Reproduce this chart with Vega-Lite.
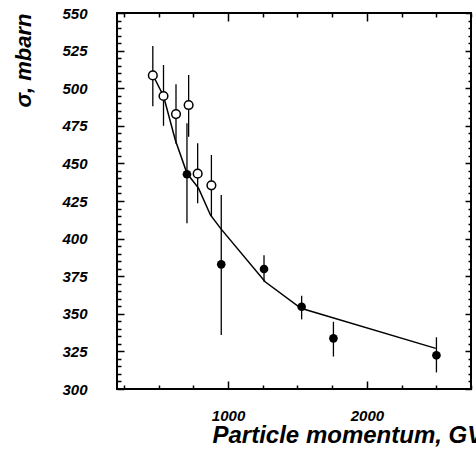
{
  "$schema": "https://vega.github.io/schema/vega-lite/v6.json",
  "autosize": {"type": "none"},
  "padding": {"left": 117, "top": 13, "right": 5, "bottom": 74},
  "width": 354,
  "height": 376,
  "background": "white",
  "config": {
    "view": {"stroke": "black", "strokeWidth": 2},
    "axis": {
      "grid": false,
      "domain": false,
      "tickColor": "black",
      "tickWidth": 1.5,
      "labelColor": "black",
      "labelFont": "Liberation Sans",
      "labelFontStyle": "italic",
      "labelFontWeight": "bold",
      "labelFontSize": 15,
      "titleColor": "black",
      "titleFont": "Liberation Sans",
      "titleFontStyle": "italic",
      "titleFontWeight": "bold",
      "titleFontSize": 22
    }
  },
  "datasets": {
    "pts": [
      {"p": 458, "s": 508.5, "lo": 488, "hi": 528, "kind": "open"},
      {"p": 535, "s": 494.8, "lo": 475, "hi": 515.4, "kind": "open"},
      {"p": 625, "s": 482.8, "lo": 463, "hi": 502.6, "kind": "open"},
      {"p": 716, "s": 488.8, "lo": 467.7, "hi": 508.8, "kind": "open"},
      {"p": 781, "s": 443.2, "lo": 423.5, "hi": 463.4, "kind": "open"},
      {"p": 880, "s": 435.4, "lo": 414.6, "hi": 455.6, "kind": "open"},
      {"p": 704, "s": 442.8, "lo": 410.2, "hi": 476.7, "kind": "filled"},
      {"p": 951, "s": 382.9, "lo": 335.9, "hi": 429, "kind": "filled"},
      {"p": 1259, "s": 379.8, "lo": 371.3, "hi": 389, "kind": "filled"},
      {"p": 1530, "s": 354.7, "lo": 346.3, "hi": 362, "kind": "filled"},
      {"p": 1759, "s": 333.7, "lo": 321.6, "hi": 344.7, "kind": "filled"},
      {"p": 2501, "s": 322.4, "lo": 311, "hi": 334.4, "kind": "filled"}
    ],
    "fit": [
      {"p": 458, "s": 508.8},
      {"p": 535, "s": 494.8},
      {"p": 620, "s": 465.6},
      {"p": 704, "s": 443.4},
      {"p": 788, "s": 433.4},
      {"p": 873, "s": 415.7},
      {"p": 946, "s": 406.8},
      {"p": 1267, "s": 371.3},
      {"p": 1525, "s": 353.7},
      {"p": 2496, "s": 327}
    ]
  },
  "resolve": {"axis": {"x": "independent", "y": "independent"}},
  "layer": [
    {
      "data": {"name": "pts"},
      "mark": {"type": "rule", "color": "black", "strokeWidth": 1.3},
      "encoding": {
        "x": {"field": "p", "type": "quantitative", "scale": {"domain": [200, 2750], "nice": false, "zero": false},
              "axis": {"orient": "bottom", "values": [250, 500, 750, 1250, 1500, 1750, 2250, 2500, 2750], "offset": -4, "tickSize": 4, "labels": false, "title": null}},
        "y": {"field": "lo", "type": "quantitative", "scale": {"domain": [300, 550], "nice": false, "zero": false},
              "axis": {"orient": "left", "values": [305,310,315,320,330,335,340,345,355,360,365,370,380,385,390,395,405,410,415,420,430,435,440,445,455,460,465,470,480,485,490,495,505,510,515,520,530,535,540,545], "offset": -4, "tickSize": 4, "labels": false, "title": null}},
        "y2": {"field": "hi"}
      }
    },
    {
      "data": {"name": "fit"},
      "mark": {"type": "line", "color": "black", "strokeWidth": 1.5},
      "encoding": {
        "x": {"field": "p", "type": "quantitative", "scale": {"domain": [200, 2750], "nice": false, "zero": false},
              "axis": {"orient": "top", "values": [1000, 2000], "offset": -8, "tickSize": 8, "labels": false, "title": null}},
        "y": {"field": "s", "type": "quantitative", "scale": {"domain": [300, 550], "nice": false, "zero": false},
              "axis": {"orient": "right", "values": [300,325,350,375,400,425,450,475,500,525,550], "offset": -6, "tickSize": 6, "labels": false, "title": null}}
      }
    },
    {
      "data": {"name": "pts"},
      "transform": [{"filter": "datum.kind == 'open'"}],
      "mark": {"type": "point", "shape": "circle", "filled": false, "fill": "white", "fillOpacity": 1, "stroke": "black", "strokeWidth": 1.5, "size": 75, "opacity": 1},
      "encoding": {
        "x": {"field": "p", "type": "quantitative", "scale": {"domain": [200, 2750], "nice": false, "zero": false},
              "axis": {"orient": "top", "values": [250, 500, 750, 1250, 1500, 1750, 2250, 2500, 2750], "offset": -4, "tickSize": 4, "labels": false, "title": null}},
        "y": {"field": "s", "type": "quantitative", "scale": {"domain": [300, 550], "nice": false, "zero": false},
              "axis": {"orient": "right", "values": [305,310,315,320,330,335,340,345,355,360,365,370,380,385,390,395,405,410,415,420,430,435,440,445,455,460,465,470,480,485,490,495,505,510,515,520,530,535,540,545], "offset": -3, "tickSize": 3, "labels": false, "title": null}}
      }
    },
    {
      "data": {"name": "pts"},
      "transform": [{"filter": "datum.kind == 'filled'"}],
      "mark": {"type": "circle", "color": "black", "size": 75, "opacity": 1},
      "encoding": {
        "x": {"field": "p", "type": "quantitative", "scale": {"domain": [200, 2750], "nice": false, "zero": false},
              "axis": {"orient": "bottom", "values": [1000, 2000], "offset": -8, "tickSize": 8, "labelPadding": 19, "format": "d",
                       "title": "Particle momentum, GV", "titleAnchor": "start", "titleAlign": "left", "titleBaseline": "alphabetic", "titleX": 95, "titleY": 61, "titleFontSize": 24}},
        "y": {"field": "s", "type": "quantitative", "scale": {"domain": [300, 550], "nice": false, "zero": false},
              "axis": {"orient": "left", "values": [300,325,350,375,400,425,450,475,500,525,550], "offset": -7, "tickSize": 7, "labelPadding": 30, "format": "d",
                       "title": "σ, mbarn", "titleAngle": -90, "titleAlign": "right", "titleBaseline": "alphabetic", "titleX": -94, "titleY": 0}}
      }
    }
  ]
}
